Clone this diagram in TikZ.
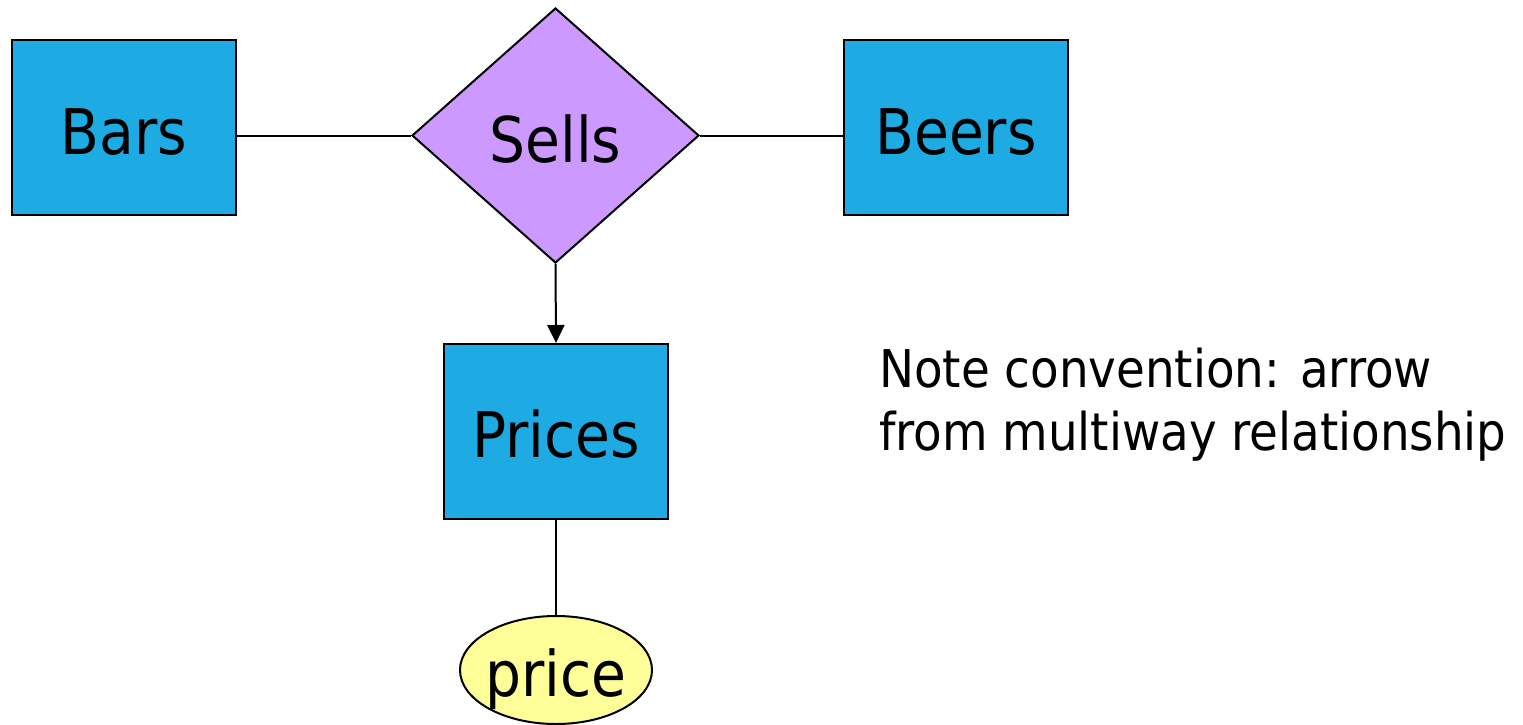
\documentclass[tikz,border=0pt]{standalone}
\usepackage{fontspec}
\setmainfont{DejaVu Sans Condensed}
\usetikzlibrary{shapes.geometric,arrows.meta}
\definecolor{entblue}{HTML}{1EAAE2}
\definecolor{relpurple}{HTML}{CC99FF}
\definecolor{attyellow}{HTML}{FFFF99}
\newcommand{\dn}[2][4pt]{\raisebox{-#1}[\height][\depth]{#2}}
\tikzset{
  entity/.style={draw=black, line width=2pt, fill=entblue, minimum width=224pt, minimum height=175pt, inner sep=0pt, font=\fontsize{63}{70}\selectfont},
  relation/.style={draw=black, line width=2pt, fill=relpurple, shape=diamond, minimum width=287pt, minimum height=255pt, inner sep=0pt, font=\fontsize{63}{70}\selectfont},
  attribute/.style={draw=black, line width=2pt, fill=attyellow, shape=ellipse, minimum width=192pt, minimum height=108pt, inner xsep=-30pt, inner ysep=0pt, font=\fontsize{63}{70}\selectfont},
  conn/.style={line width=2pt, draw=black},
  note/.style={anchor=north west, align=left, inner sep=0pt, font=\fontsize{52}{63}\selectfont}
}
\begin{document}
\begin{tikzpicture}[x=1pt,y=-1pt]
\useasboundingbox (0,0) rectangle (1523,725);
\node[entity] (bars) at (124,127.5) {\dn{Bars}};
\node[relation] (sells) at (555.5,135.5) {\dn{Sells}};
\node[entity] (beers) at (956,127.5) {\dn{Beers}};
\node[entity] (prices) at (556,431.5) {\dn[3pt]{Prices}};
\node[attribute] (price) at (556,670) {\dn[9pt]{price}};
\draw[conn] (bars.east |- sells.west) -- (sells.west);
\draw[conn] (sells.east) -- (beers.west |- sells.east);
\draw[conn, -{Triangle[length=18pt,width=17pt]}] (sells.south) -- (prices.north);
\draw[conn] (prices.south) -- (price.north);
\node[note] (notetext) at (879,348) {Note convention: arrow\\from multiway relationship};
\end{tikzpicture}
\end{document}
